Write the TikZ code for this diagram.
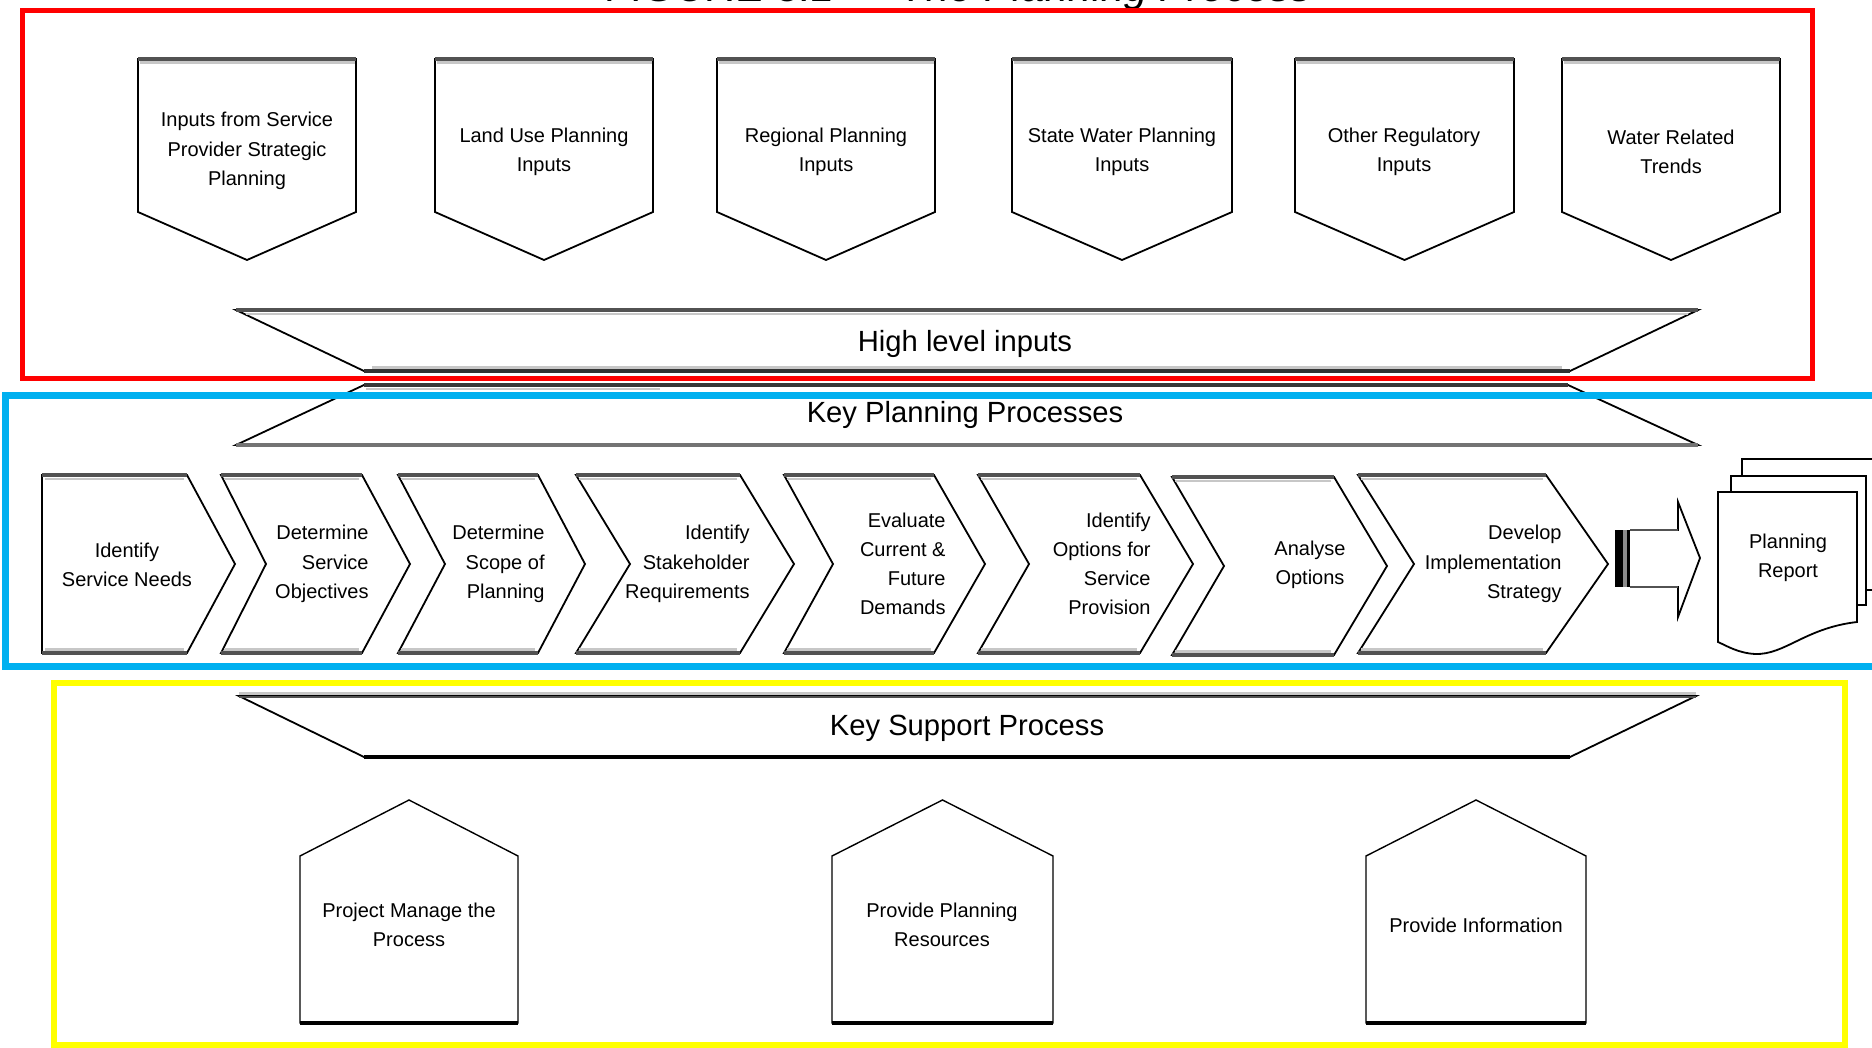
\documentclass[tikz,border=0pt]{standalone}
\usepackage{fontspec}
\setmainfont{Liberation Sans}
\definecolor{frred}{HTML}{FF0000}
\definecolor{frblue}{HTML}{00B0F0}
\definecolor{fryellow}{HTML}{FFFF00}
\newcommand\downpent[2]{%
  \draw[outl] (#1,59) -- (#2,59) -- (#2,212) -- ({(#1+#2)/2},260) -- (#1,212) -- cycle;
  \draw[darkedge] (#1,59) -- (#2,59);
  \draw[lightedge] ({#1+1.5},62.6) -- ({#2-1.5},62.6);
}
\newcommand\uppent[2]{%
  \draw[outl,line width=0.7pt] (#1,1023) -- (#1,856) -- ({(#1+#2)/2},800) -- (#2,856) -- (#2,1023) -- cycle;
  \draw[blackedge] (#1,1023) -- (#2,1023);
}
\newcommand\mychev[6]{%
  \draw[outl] (#1,#5) -- (#3,#5) -- (#4,{(#5+#6)/2}) -- (#3,#6) -- (#1,#6) -- (#2,{(#5+#6)/2}) -- cycle;
  \draw[darkedge] (#1,#5) -- (#3,#5);
  \draw[lightedge] ({#1+3},{#5+3.6}) -- ({#3-3},{#5+3.6});
  \draw[lightedge] ({#1+3},{#6-3.6}) -- ({#3-3},{#6-3.6});
  \draw[darkedge] (#1,#6) -- (#3,#6);
}
\begin{document}
\begin{tikzpicture}[x=0.5pt,y=-0.5pt,
  outl/.style={draw=black,line width=0.9pt,fill=white,line join=miter},
  darkedge/.style={draw=black!68,line width=1.7pt},
  lightedge/.style={draw=black!22,line width=1.1pt},
  blackedge/.style={draw=black,line width=1.6pt},
  lbl/.style={font=\fontsize{10}{14.6}\selectfont,align=center,inner sep=0pt},
  rlbl/.style={lbl,align=right,anchor=east},
  biglbl/.style={font=\fontsize{14.6}{17}\selectfont,inner sep=0pt},
  titlelbl/.style={font=\fontsize{21}{24}\selectfont\itshape,inner sep=0pt,anchor=base}]
\clip (0,0) rectangle (1872,1048);
\fill[white] (0,0) rectangle (1872,1048);

% title (cut off at the top)
\node[titlelbl] (title) at (959,1.5) {FIGURE 3.1 — The Planning Process};

% ---- high level inputs ----
\downpent{138}{356}
\downpent{435}{653}
\downpent{717}{935}
\downpent{1012}{1232}
\downpent{1295}{1514}
\downpent{1562}{1780}
\node[lbl] (in1) at (247,151) {Inputs from Service\\Provider Strategic\\Planning};
\node[lbl] (in2) at (544,152) {Land Use Planning\\Inputs};
\node[lbl] (in3) at (826,152) {Regional Planning\\Inputs};
\node[lbl] (in4) at (1122,152) {State Water Planning\\Inputs};
\node[lbl] (in5) at (1404,152) {Other Regulatory\\Inputs};
\node[lbl] (in6) at (1671,152) {Water Related\\Trends};

\draw[outl] (236,310) -- (1698,310) -- (1570,371) -- (364,371) -- cycle;
\draw[darkedge] (236,310) -- (1698,310);
\draw[lightedge] (246,313.6) -- (1688,313.6);
\draw[lightedge] (372,367.4) -- (1562,367.4);
\draw[darkedge,draw=black!80] (364,371) -- (1570,371);
\node[biglbl] (hl) at (965,344) {High level inputs};

% ---- key planning processes ----
\draw[outl] (364,385) -- (1568,385) -- (1698,445) -- (236,445) -- cycle;
\draw[darkedge,draw=black!78] (364,385) -- (1568,385);
\draw[lightedge] (366,388.6) -- (660,388.6);
\draw[darkedge,draw=black!55] (236,445) -- (1698,445);
\node[biglbl] (kp) at (965,415) {Key Planning Processes};

\mychev{42}{42}{187}{235}{475}{653}
\mychev{221}{266}{362}{410}{475}{653}
\mychev{398}{445}{538}{585}{475}{653}
\mychev{576}{630}{740}{794}{475}{653}
\mychev{784}{833}{934}{985}{475}{653}
\mychev{978}{1029}{1140}{1193}{475}{653}
\mychev{1172}{1224}{1334}{1387}{477}{655}
\mychev{1358}{1414}{1546}{1608}{475}{653}
\node[lbl] (c1) at (127,565) {Identify\\Service Needs};
\node[rlbl] (c2) at (369,564) {Determine\\Service\\Objectives};
\node[rlbl] (c3) at (545,564) {Determine\\Scope of\\Planning};
\node[rlbl] (c4) at (750,564) {Identify\\Stakeholder\\Requirements};
\node[rlbl] (c5) at (946,564) {Evaluate\\Current \&\\Future\\Demands};
\node[rlbl] (c6) at (1151,564) {Identify\\Options for\\Service\\Provision};
\node[lbl] (c7) at (1310,565) {Analyse\\Options};
\node[rlbl] (c8) at (1562,564) {Develop\\Implementation\\Strategy};

% block arrow
\fill[black!45] (1615,530) rectangle (1630,587);
\fill[black] (1615,530) rectangle (1623,587);
\fill[black] (1626.5,530) rectangle (1629.5,587);
\draw[outl] (1630,530) -- (1678,530) -- (1678,502) -- (1700,558) -- (1678,617) -- (1678,587) -- (1630,587);
\draw[darkedge,line width=1.3pt] (1630,530) -- (1678,530);
\draw[darkedge,line width=1.3pt] (1630,587) -- (1678,587);

% planning report document
\draw[outl] (1742,459) rectangle (1900,590);
\draw[outl] (1731,476) rectangle (1866,605);
\draw[outl] (1718,492) -- (1857,492) -- (1857,622)
  .. controls (1805,628) and (1785,655) .. (1755,654)
  .. controls (1738,653) and (1727,646) .. (1718,642) -- cycle;
\draw[blackedge,line width=1.2pt] (1718,492) -- (1857,492) -- (1857,622);
\node[lbl] (report) at (1788,558) {Planning\\Report};

% ---- key support process ----
\draw[outl] (239,696) -- (1696,696) -- (1570,757) -- (364,757) -- cycle;
\draw[lightedge,line width=1.3pt] (239,693.5) -- (1696,693.5);
\draw[darkedge,line width=1.3pt] (239,697) -- (1696,697);
\draw[blackedge] (364,757) -- (1570,757);
\node[biglbl] (ks) at (967,728) {Key Support Process};

\uppent{300}{518}
\uppent{832}{1053}
\uppent{1366}{1586}
\node[lbl] (s1) at (409,925) {Project Manage the\\Process};
\node[lbl] (s2) at (942,925) {Provide Planning\\Resources};
\node[lbl] (s3) at (1476,925) {Provide Information};

% ---- coloured frames ----
\draw[frred,line width=2.5pt] (22,11) rectangle (1812,378);
\draw[frblue,line width=3.5pt] (5.5,395) rectangle (1900,666);
\draw[fryellow,line width=3.25pt] (54,683) rectangle (1845,1045);
\end{tikzpicture}
\end{document}
